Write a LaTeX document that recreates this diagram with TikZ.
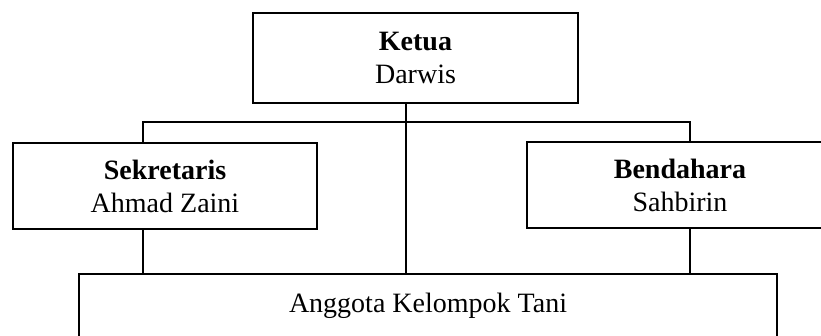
\documentclass[tikz,border=0pt]{standalone}
\usepackage{fontspec}
\setmainfont{Liberation Serif}
\usetikzlibrary{positioning}

\begin{document}
\begin{tikzpicture}[x=1pt,y=-1pt,line width=1.6pt,
		unit/.style={draw, rectangle, inner sep=0pt, align=center,
		font=\fontsize{28}{33}\selectfont}]

		\clip (0,0) rectangle (821,336);

		\node[unit, minimum width=325pt, minimum height=90pt] (Ketua) at (415.5,58) {\textbf{Ketua}\\Darwis};
		\node[unit, minimum width=304pt, minimum height=86pt] (Sek) at (165,186) {\textbf{Sekretaris}\\Ahmad Zaini};
		\node[unit, minimum width=306pt, minimum height=86pt] (Ben) at (680,185) {\textbf{Bendahara}\\Sahbirin};
		\node[unit, minimum width=698pt, inner ysep=19.4pt, text depth=60pt, anchor=north] (Ang) at (428,273) {Anggota Kelompok Tani};

		% junctions on the bar below Ketua
		\coordinate (jL) at (143,122);
		\coordinate (jM) at (406,122);
		\coordinate (jR) at (690,122);

		\draw (jL |- Sek.north) -- (jL) -- (jR) -- (jR |- Ben.north);
		\draw (jM |- Ketua.south) -- (jM |- Ang.north);
		\draw (jL |- Sek.south) -- (jL |- Ang.north);
		\draw (jR |- Ben.south) -- (jR |- Ang.north);

	\end{tikzpicture}
\end{document}
